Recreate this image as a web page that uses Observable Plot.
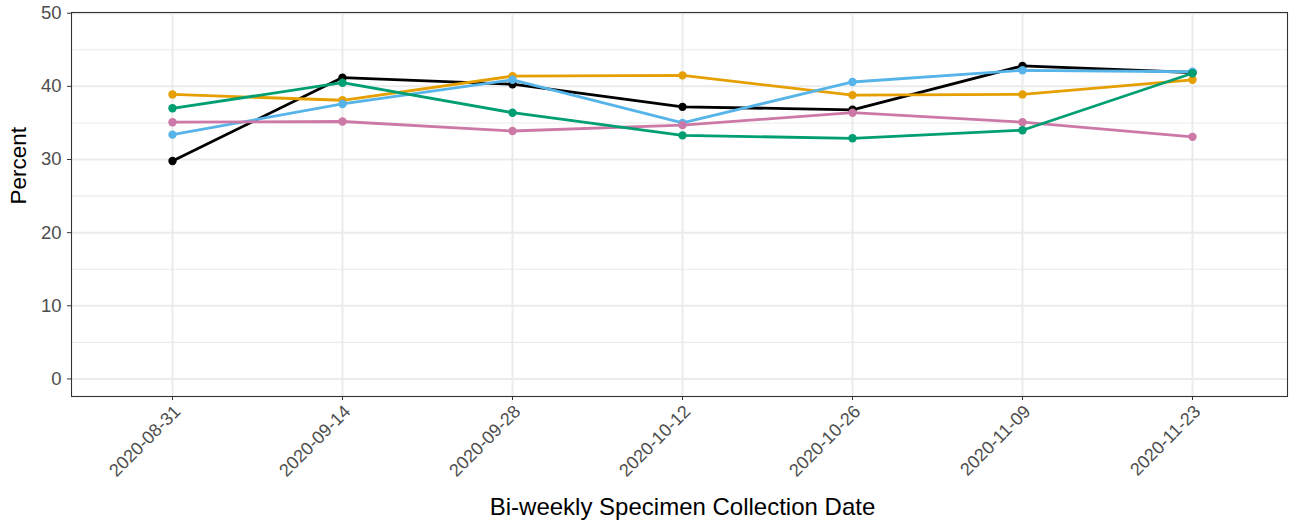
<!DOCTYPE html>
<html>
<head>
<meta charset="utf-8">
<script src="https://cdn.jsdelivr.net/npm/d3@7"></script>
<script src="https://cdn.jsdelivr.net/npm/@observablehq/plot@0.6"></script>
<style>
  html, body { margin: 0; padding: 0; background: #fff; }
  #chart svg { display: block; font-family: "Liberation Sans", Arial, sans-serif; }
</style>
</head>
<body>
<div id="chart"></div>
<script>
// Categories (bi-weekly specimen collection dates)
const dates = ["2020-08-31", "2020-09-14", "2020-09-28", "2020-10-12", "2020-10-26", "2020-11-09", "2020-11-23"];

// Series values (percent)
const seriesNames = ["Series 1", "Series 2", "Series 3", "Series 4", "Series 5"];
const series1 = [29.8, 41.2, 40.3, 37.2, 36.8, 42.8, 41.9]; // black
const series2 = [38.9, 38.1, 41.4, 41.5, 38.8, 38.9, 40.9]; // orange
const series3 = [33.4, 37.6, 40.9, 35.0, 40.6, 42.2, 42.0]; // sky blue
const series4 = [35.1, 35.2, 33.9, 34.7, 36.4, 35.1, 33.1]; // pink
const series5 = [37.0, 40.5, 36.4, 33.3, 32.9, 34.0, 41.8]; // green
const seriesColors = ["#000000", "#E69F00", "#56B4E9", "#CC79A7", "#009E73"];

// Axis ticks and labels
const yMajorTicks = [0, 10, 20, 30, 40, 50];
const yMinorTicks = [5, 15, 25, 35, 45];
const xTitle = "Bi-weekly Specimen Collection Date";
const yTitle = "Percent";

const allSeries = [series1, series2, series3, series4, series5];
const data = allSeries.flatMap((vals, i) =>
  vals.map((v, j) => ({series: seriesNames[i], date: dates[j], value: v}))
);

const W = 1297, H = 525;
const mL = 71, mR = 10, mT = 12, mB = 129;

const chart = Plot.plot({
  width: W,
  height: H,
  marginLeft: mL,
  marginRight: mR,
  marginTop: mT,
  marginBottom: mB,
  style: {fontFamily: '"Liberation Sans", Arial, sans-serif', background: "#fff"},
  x: {type: "point", domain: dates, padding: 0.576, align: 0.515, axis: null},
  y: {domain: [-2.4, 50.1], axis: null},
  color: {domain: seriesNames, range: seriesColors},
  marks: [
    // grid
    Plot.ruleY(yMinorTicks, {y: d => d, stroke: "#EBEBEB", strokeWidth: 1.1}),
    Plot.ruleY(yMajorTicks, {y: d => d, stroke: "#EBEBEB", strokeWidth: 2}),
    Plot.ruleX(dates, {x: d => d, stroke: "#EBEBEB", strokeWidth: 2}),
    // data
    Plot.line(data, {x: "date", y: "value", z: "series", stroke: "series", strokeWidth: 2.8}),
    Plot.dot(data, {x: "date", y: "value", fill: "series", r: 4.2, stroke: "none"}),
    // panel border
    Plot.frame({stroke: "#333333", strokeWidth: 1.1}),
    // y axis
    Plot.axisY({ticks: yMajorTicks, tickSize: 4, tickPadding: 6, fontSize: 18.5, stroke: "#333333", color: "#4D4D4D", label: null, tickFormat: d => String(d)}),
    // x axis ticks and rotated labels
    Plot.axisX({ticks: dates, tickSize: 4, tickFormat: () => "", stroke: "#333333", label: null}),
    Plot.text(dates, {x: d => d, frameAnchor: "bottom", dy: 12, dx: 5, rotate: -45, textAnchor: "end", lineAnchor: "middle", fontSize: 18, fill: "#4D4D4D"}),
    // axis titles
    Plot.text([xTitle], {frameAnchor: "bottom", dy: 111, dx: 3, fontSize: 24, fill: "#000", lineAnchor: "middle"}),
    Plot.text([yTitle], {frameAnchor: "left", dx: -53, rotate: -90, fontSize: 22.5, fill: "#000", lineAnchor: "middle"})
  ]
});

document.getElementById("chart").appendChild(chart);
</script>
</body>
</html>
